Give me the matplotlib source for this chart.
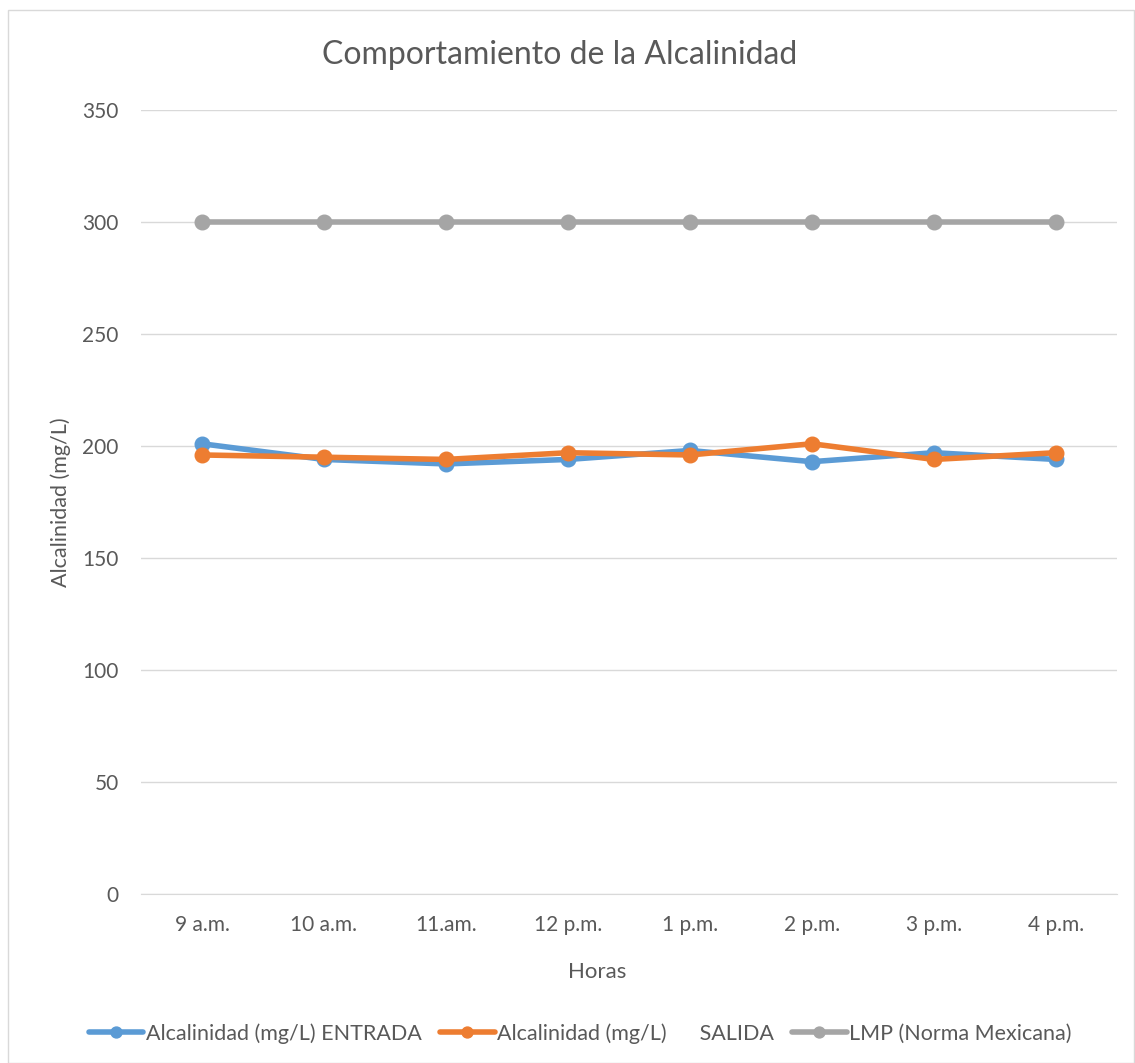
import matplotlib.pyplot as plt
from matplotlib.patches import Rectangle

plt.rcParams['font.family'] = ['Lato', 'DejaVu Sans']

horas = ['9 a.m.', '10 a.m.', '11.am.', '12 p.m.', '1 p.m.', '2 p.m.', '3 p.m.', '4 p.m.']
entrada = [201, 194, 192, 194, 198, 193, 197, 194]
salida = [196, 195, 194, 197, 196, 201, 194, 197]
lmp = [300, 300, 300, 300, 300, 300, 300, 300]

labels = ['Alcalinidad (mg/L) ENTRADA', 'Alcalinidad (mg/L)      SALIDA', 'LMP (Norma Mexicana)']
colors = ['#5B9BD5', '#ED7D31', '#A5A5A5']
gris = '#595959'

fig = plt.figure(figsize=(11.35, 10.63), dpi=100)
ax = fig.add_axes([0.1242, 0.159, 0.8598, 0.7375])

x = list(range(len(horas)))
for serie, lab, col in zip([entrada, salida, lmp], labels, colors):
    ax.plot(x, serie, color=col, linewidth=4, marker='o', markersize=10.5,
            label=lab, solid_capstyle='round')

ax.set_xlim(-0.5, len(horas) - 0.5)
ax.set_ylim(0, 350)
ax.set_yticks(range(0, 351, 50))
ax.set_xticks(x)
ax.set_xticklabels(horas)
ax.grid(axis='y', color='#D9D9D9', linewidth=1)
ax.set_axisbelow(True)
for side in ['top', 'right', 'left']:
    ax.spines[side].set_visible(False)
ax.spines['bottom'].set_color('#D9D9D9')
ax.tick_params(axis='both', length=0, labelsize=15, colors=gris)
ax.tick_params(axis='x', pad=15)
ax.tick_params(axis='y', pad=16)

# ejes
ax.set_xlabel('Horas', fontsize=16, color=gris, va='center')
ax.xaxis.set_label_coords(0.467, -0.0995)
ax.set_ylabel('Alcalinidad (mg/L)', fontsize=15.5, color=gris, va='center')
ax.yaxis.set_label_coords(-0.082, 0.5)

fig.text(0.493, 0.948, 'Comportamiento de la Alcalinidad', fontsize=23,
         color=gris, ha='center', va='center')

fig.legend(loc='center', bbox_to_anchor=(0.511, 0.028), ncol=3, frameon=False,
           fontsize=15.5, labelcolor=gris, handlelength=2.55, handletextpad=0.1,
           columnspacing=0.85, markerscale=0.75)

# marco del grafico
fig.patches.append(Rectangle((0.007, 0.0), 0.992, 0.991, transform=fig.transFigure,
                             fill=False, edgecolor='#D9D9D9', linewidth=1))

fig.savefig('out.png', dpi=100)
